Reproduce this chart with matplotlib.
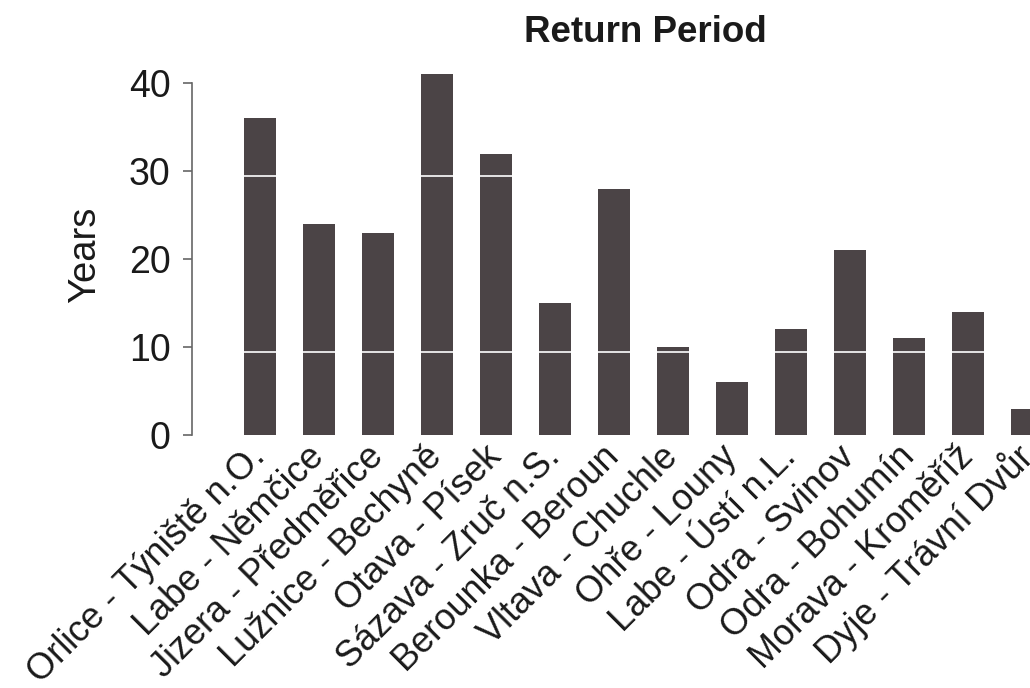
import numpy as np
import matplotlib
matplotlib.use('Agg')
import matplotlib.pyplot as plt

# river - gauge station and return period (years)
stations = ['Orlice - Týniště n.O.', 'Labe - Němčice', 'Jizera - Předměřice',
            'Lužnice - Bechyně', 'Otava - Písek', 'Sázava - Zruč n.S.',
            'Berounka - Beroun', 'Vltava - Chuchle', 'Ohře - Louny',
            'Labe - Ústí n.L.', 'Odra - Svinov', 'Odra - Bohumín',
            'Morava - Kroměříž', 'Dyje - Trávní Dvůr']
years = [36, 24, 23, 41, 32, 15, 28, 10, 6, 12, 21, 11, 14, 3]
yticks = [0, 10, 20, 30, 40]
# white streaks from the scanned original
scan_lines = [29.4, 9.4]

plt.rcParams['font.family'] = ['Liberation Sans', 'DejaVu Sans']

fig = plt.figure(figsize=(10.3, 6.88), dpi=100)
ax = fig.add_axes([192/1030, 1 - 435/688, 1 - 192/1030, 0.537])

x = np.arange(len(stations))
ax.bar(x, years, width=0.53, color='#4b4446')
for yl in scan_lines:
    ax.hlines(yl, -0.3, 13.5, color='white', lw=1.2)

ax.set_xlim(-1.15, 13.05)
ax.set_ylim(0, 42)

for s in ['top', 'right', 'bottom']:
    ax.spines[s].set_visible(False)
ax.spines['left'].set_bounds(0, 40)
ax.spines['left'].set_color('#666666')
ax.spines['left'].set_linewidth(1.2)

ax.set_yticks(yticks)
ax.tick_params(axis='y', length=6.5, width=1.2, color='#666666',
               labelsize=27, pad=9, labelcolor='#1a1a1a')
ax.set_xticks(x)
ax.set_xticklabels(stations, rotation=45, ha='right', va='center',
                   rotation_mode='anchor', fontsize=26, color='#1a1a1a')
ax.tick_params(axis='x', length=0, pad=12)

fig.text(85/1030, 1 - 255/688, 'Years', rotation=90, ha='center', va='center',
         fontsize=27.5, color='#1a1a1a')
fig.text(645/1030, 1 - 32/688, 'Return Period', ha='center', va='center',
         fontsize=26.5, fontweight='bold', color='#1a1a1a')

plt.savefig('out.png', dpi=100)
